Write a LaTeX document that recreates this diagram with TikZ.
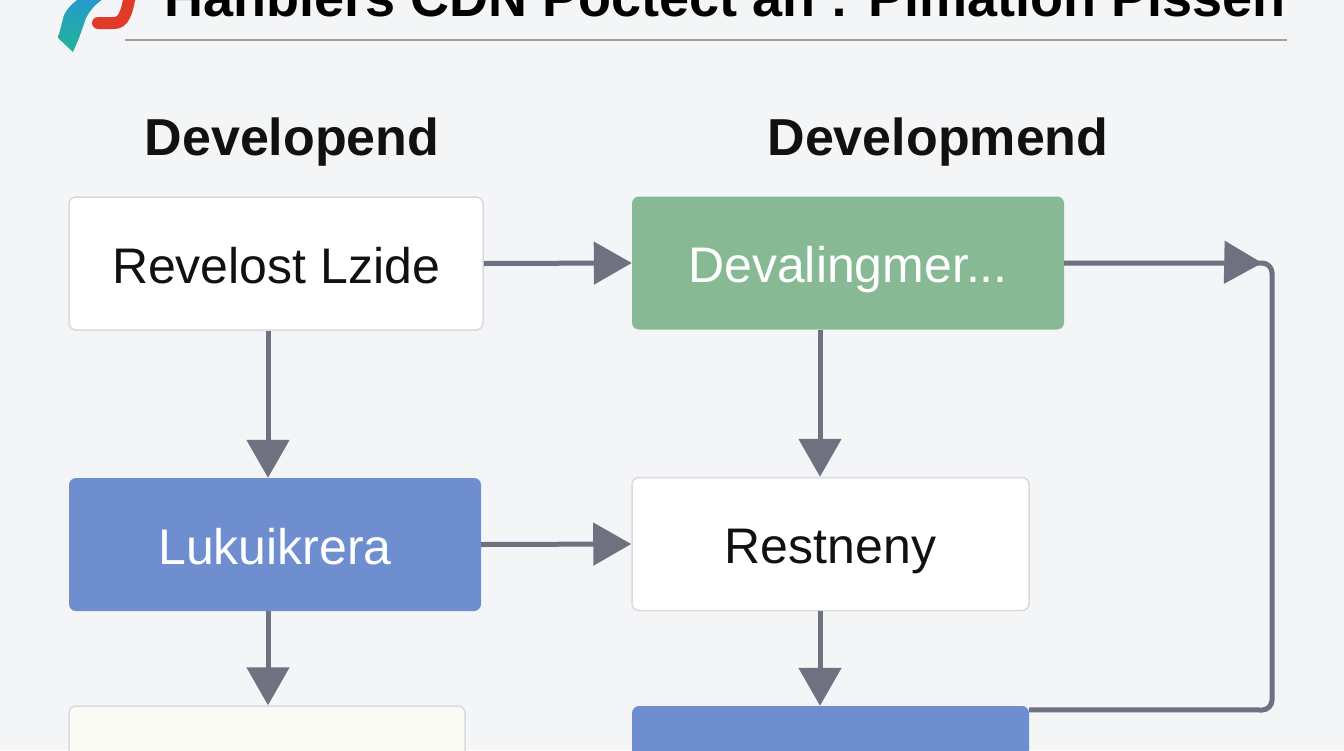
\documentclass[tikz,border=0pt]{standalone}
\usepackage{fontspec}
\setmainfont{Liberation Sans}
\usetikzlibrary{arrows.meta,decorations.markings,calc}
\definecolor{bg}{RGB}{244,245,246}
\definecolor{conn}{RGB}{110,114,128}
\definecolor{boxline}{RGB}{216,218,222}
\definecolor{greenbox}{RGB}{134,185,148}
\definecolor{bluebox}{RGB}{110,142,208}
\definecolor{creambox}{RGB}{251,251,245}
\definecolor{tealL}{RGB}{32,182,150}
\definecolor{blueL}{RGB}{40,150,210}
\definecolor{redL}{RGB}{225,58,40}
\definecolor{rulec}{RGB}{160,160,160}
\definecolor{ink}{RGB}{17,17,17}
\begin{document}
\begin{tikzpicture}[x=1pt,y=-1pt,
  box/.style={rounded corners=7pt, minimum height=133pt, inner sep=0pt,
    text height=39pt, text depth=0pt,
    font=\fontsize{50}{60}\selectfont},
  whitebox/.style={box, fill=white, draw=boxline, line width=1.5pt, text=ink},
  greenb/.style={box, fill=greenbox, text=white},
  blueb/.style={box, fill=bluebox, text=white},
  creamb/.style={box, fill=creambox, draw=boxline, line width=1.5pt},
  head/.style={font=\bfseries\fontsize{52}{60}\selectfont, text=ink, inner sep=0pt, anchor=base},
  tipA/.tip={Triangle[length=38pt,width=42pt]},
  arr/.style={draw=conn, line width=5pt, -tipA},
]
\useasboundingbox (0,0) rectangle (1344,750);
\clip (0,0) rectangle (1344,750);
\fill[bg] (0,0) rectangle (1344,750);

% logo
\shade[bottom color=tealL, top color=blueL] (58,38) -- (64,15) .. controls (69,5) and (78,-1) .. (86,-6) -- (110,-6) .. controls (96,3) and (87,12) .. (84,24) -- (79,38) -- (73,52) -- cycle;
\draw[redL, line width=12pt, line cap=round] (98,23) -- (114,23) .. controls (123,23) and (127,14) .. (130,-6);

% title (cut off at the top edge, as in the reference)
\node[anchor=base west, font=\bfseries\fontsize{54}{60}\selectfont, text=black, inner sep=0pt] (title) at (164,16) {Hanbiers CDN Poctect an : Pimation Pissen};
\draw[rulec, line width=2pt] (125,40) -- (1287,40);

% headers
\node[head] (h1) at (292,155) {Developend};
\node[head] (h2) at (938,155) {Developmend};

% boxes
\node[whitebox, minimum width=414pt] (A) at (276,263.5) {Revelost Lzide};
\node[greenb, minimum width=432pt] (B) at (848,263) {Devalingmer...};
\node[blueb, minimum width=412pt] (C) at (275,544.5) {Lukuikrera};
\node[whitebox, minimum width=397pt] (D) at (830.5,544) {Restneny};
\node[creamb, minimum width=396pt] (E) at (267,772.5) {};
\node[blueb, minimum width=397pt] (F) at (830.5,772.5) {};

\coordinate (colL) at (268,0);
\coordinate (colR) at (820,0);

% connectors
\draw[arr] (A.east) -- (B.west);
\draw[arr] (C.east) -- (D.west);
\draw[arr] (A.south -| colL) -- (C.north -| colL);
\draw[arr] (C.south -| colL) -- (E.north -| colL);
\draw[arr] (B.south -| colR) -- (D.north -| colR);
\draw[arr] (D.south -| colR) -- (F.north -| colR);
\draw[draw=conn, line width=5pt, rounded corners=10pt, postaction={decorate},
  decoration={markings, mark=at position 198pt with {\arrow{tipA}}}]
  (B.east) -- (1272,263) -- (1272,710) -- ([yshift=-4pt]F.north east);
\end{tikzpicture}
\end{document}
